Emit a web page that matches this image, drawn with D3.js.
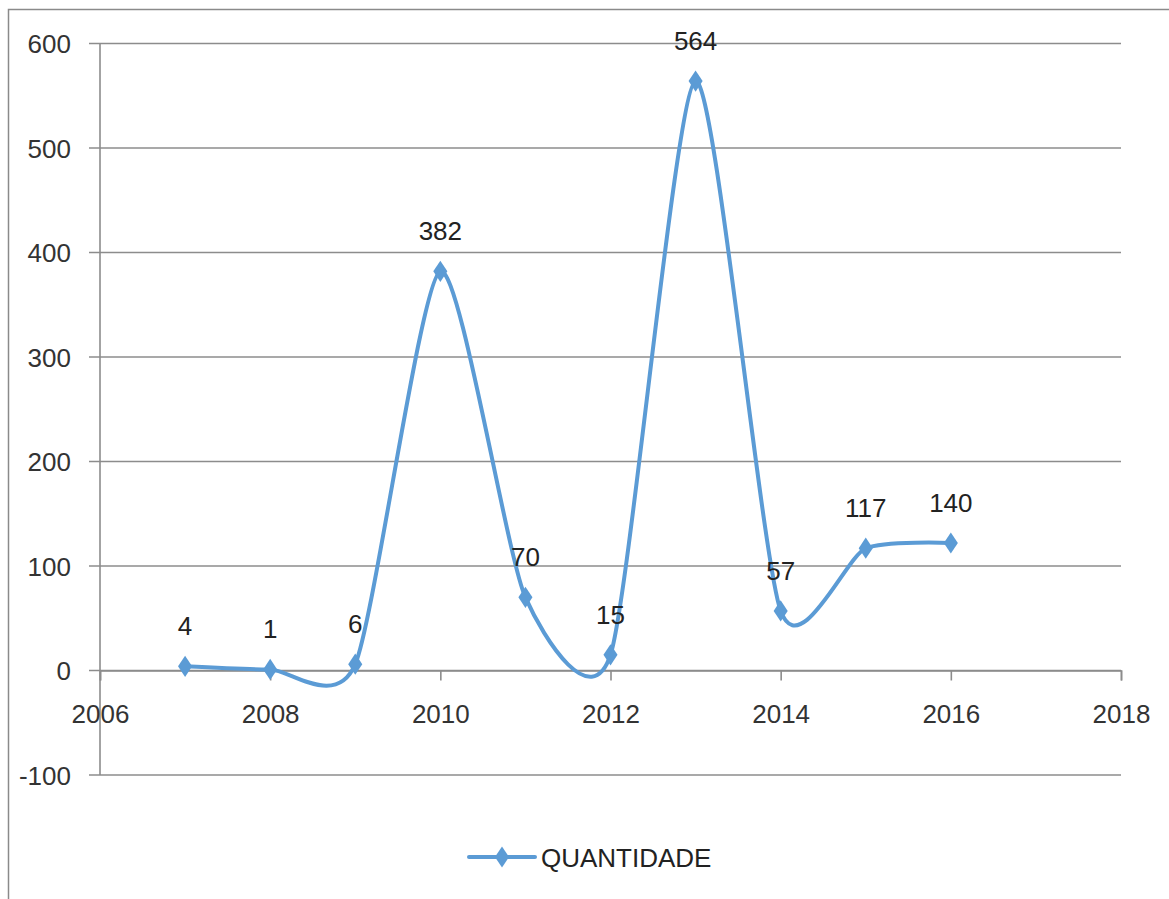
<!DOCTYPE html>
<html>
<head>
<meta charset="utf-8">
<script src="https://cdn.jsdelivr.net/npm/d3@7"></script>
<style>
  body { margin: 0; background: #fff; }
  #canvas { width: 1169px; height: 899px; }
  text { font-family: "Liberation Sans", Arial, sans-serif; }
</style>
</head>
<body>
<div id="canvas"></div>
<script>
// dados
var years = [2007, 2008, 2009, 2010, 2011, 2012, 2013, 2014, 2015, 2016];
var quantidade = [4, 1, 6, 382, 70, 15, 564, 57, 117, 122];
// rótulos como aparecem no gráfico (o último diz 140)
var pointLabels = ["4", "1", "6", "382", "70", "15", "564", "57", "117", "140"];
var xTicks = [2006, 2008, 2010, 2012, 2014, 2016, 2018];
var yTicks = [-100, 0, 100, 200, 300, 400, 500, 600];
var seriesName = "QUANTIDADE";

var W = 1169, H = 899;
var blue = "#5B9BD5";
var grid = "#8c8c8c";

svg = d3.select("#canvas").append("svg")
  .attr("width", W)
  .attr("height", H);

// borda externa (sai da imagem à direita e embaixo)
svg.append("rect")
  .attr("x", 8.5).attr("y", 9.5)
  .attr("width", 1300).attr("height", 1000)
  .attr("fill", "#fff")
  .attr("stroke", "#8a8a8a")
  .attr("stroke-width", 1.5);

var x = d3.scaleLinear().domain([2006, 2018]).range([100, 1121]);
var y = d3.scaleLinear().domain([-100, 600]).range([775, 43.5]);

// linhas de grade horizontais
svg.append("g")
  .selectAll("line")
  .data(yTicks)
  .join("line")
  .attr("x1", 89)
  .attr("x2", x(2018))
  .attr("y1", d => y(d))
  .attr("y2", d => y(d))
  .attr("stroke", grid)
  .attr("stroke-width", 1.6);

// eixo vertical
svg.append("line")
  .attr("x1", x(2006)).attr("x2", x(2006))
  .attr("y1", y(600)).attr("y2", y(-100))
  .attr("stroke", grid)
  .attr("stroke-width", 1.6);

// eixo x cruzando no zero
var xAxis = d3.axisBottom(x)
  .tickValues(xTicks)
  .tickFormat(d3.format("d"))
  .tickSize(10)
  .tickPadding(24);

var gx = svg.append("g")
  .attr("transform", "translate(0," + y(0) + ")")
  .call(xAxis);
gx.select(".domain").attr("stroke", grid).attr("stroke-width", 1.6);
gx.selectAll(".tick line").attr("stroke", grid).attr("stroke-width", 1.6);
gx.selectAll(".tick text")
  .attr("font-size", 26)
  .attr("fill", "#333")
  .attr("font-family", "Liberation Sans, Arial, sans-serif");

// rótulos do eixo y
svg.append("g")
  .selectAll("text")
  .data(yTicks)
  .join("text")
  .attr("x", 71)
  .attr("y", d => y(d) + 9.5)
  .attr("text-anchor", "end")
  .attr("font-size", 26)
  .attr("fill", "#333")
  .text(d => d);

var pts = years.map((yr, i) => [yr, quantidade[i]]);

// linha suavizada (parecida com a do Excel)
var line = d3.line()
  .x(d => x(d[0]))
  .y(d => y(d[1]))
  .curve(d3.curveCardinal.tension(0.32));

svg.append("path")
  .datum(pts)
  .attr("d", line)
  .attr("fill", "none")
  .attr("stroke", blue)
  .attr("stroke-width", 4)
  .attr("stroke-linejoin", "round");

var diamond = d3.symbol().type(d3.symbolDiamond).size(130);

svg.append("g")
  .selectAll("path")
  .data(pts)
  .join("path")
  .attr("d", diamond)
  .attr("transform", d => "translate(" + x(d[0]) + "," + y(d[1]) + ") scale(1.15,1)")
  .attr("fill", blue);

// rótulos de dados, acima de cada ponto
svg.append("g")
  .selectAll("text")
  .data(pts)
  .join("text")
  .attr("x", d => x(d[0]))
  .attr("y", d => y(d[1]) - 31)
  .attr("text-anchor", "middle")
  .attr("font-size", 26)
  .attr("fill", "#222")
  .text((d, i) => pointLabels[i]);

// legenda
var lg = svg.append("g");
lg.append("line")
  .attr("x1", 469).attr("x2", 535)
  .attr("y1", 857).attr("y2", 857)
  .attr("stroke", blue)
  .attr("stroke-width", 4)
  .attr("stroke-linecap", "round");
lg.append("path")
  .attr("d", diamond)
  .attr("transform", "translate(502,857) scale(1.15,1)")
  .attr("fill", blue);
lg.append("text")
  .attr("x", 541)
  .attr("y", 867)
  .attr("font-size", 26)
  .attr("fill", "#222")
  .text(seriesName);
</script>
</body>
</html>
